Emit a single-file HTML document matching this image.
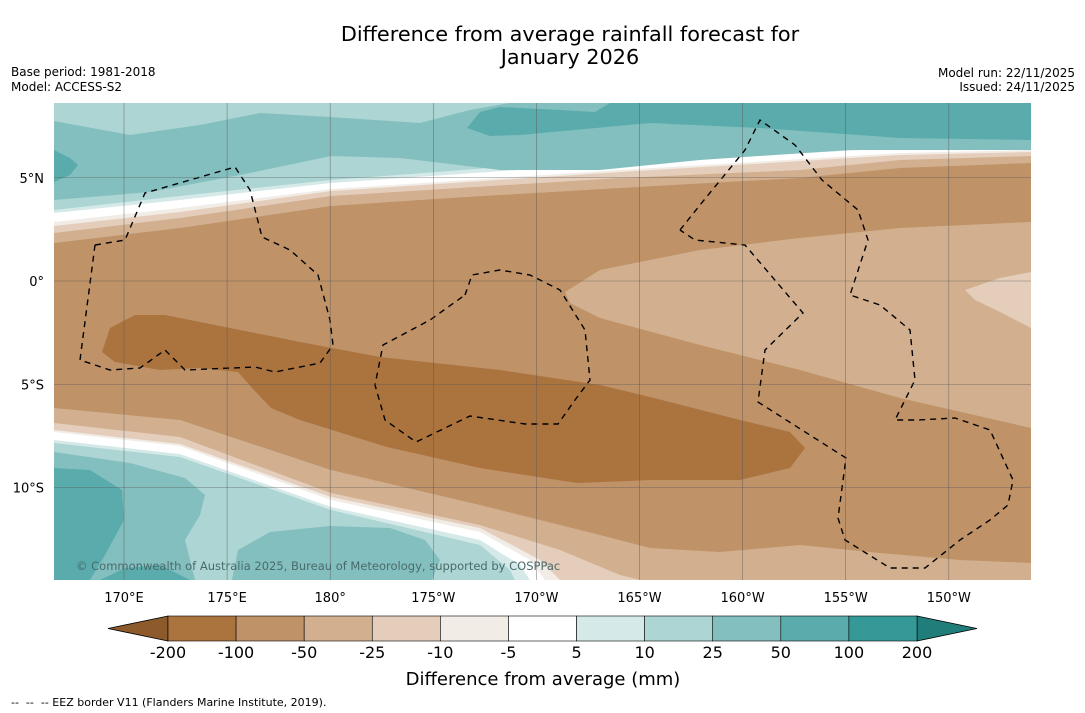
<!DOCTYPE html>
<html><head><meta charset="utf-8">
<style>
html,body{margin:0;padding:0;background:#fff;}
body{width:1085px;height:713px;overflow:hidden;font-family:"DejaVu Sans","Liberation Sans",sans-serif;}
svg{display:block}
</style></head>
<body>
<svg id="chart" width="1085" height="713" viewBox="0 0 1085 713" xmlns="http://www.w3.org/2000/svg">
<text x="570" y="41" font-size="20.8" text-anchor="middle">Difference from average rainfall forecast for</text>
<text x="570" y="64" font-size="20.8" text-anchor="middle">January 2026</text>
<text x="11" y="76" font-size="12">Base period: 1981-2018</text>
<text x="11" y="91" font-size="12">Model: ACCESS-S2</text>
<text x="1075" y="77" font-size="12" text-anchor="end">Model run: 22/11/2025</text>
<text x="1075" y="91" font-size="12" text-anchor="end">Issued: 24/11/2025</text>
<defs><clipPath id="mapclip"><rect x="54" y="103" width="977" height="477"/></clipPath></defs>
<g id="map" clip-path="url(#mapclip)"></g>
<g id="axes"></g>
<g id="cbar"></g>
<text x="543" y="685" font-size="18" text-anchor="middle">Difference from average (mm)</text>
<text x="11" y="706" font-size="11" xml:space="preserve" style="white-space:pre">--  --  -- EEZ border V11 (Flanders Marine Institute, 2019).</text>
</svg>
<script>
const NS='http://www.w3.org/2000/svg';
const levels=['-200','-100','-50','-25','-10','-5','5','10','25','50','100','200'];
const levelColors=['#ab743f','#bf9268','#d2b08f','#e4cebb','#f2ece7','#ffffff','#d5eae8','#acd5d4','#84bfbf','#5aabab','#359a97'];
const extendColors=['#8c5a2b','#217d79'];
const lonLabels=['170°E','175°E','180°','175°W','170°W','165°W','160°W','155°W','150°W'];
const lonValues=[170,175,180,185,190,195,200,205,210];
const latLabels=['5°N','0°','5°S','10°S'];
const latValues=[5,0,-5,-10];
const xOf=lon=>124+(lon-170)*20.62;
const yOf=lat=>281-lat*20.65;
const northBounds=[
 ['#d2b08f',[[54,243],[180,228],[331,206],[450,198],[620,188],[800,178],[900,168],[1031,163]]],
 ['#e4cebb',[[54,233],[180,218],[331,196],[620,178],[800,170],[900,160],[1031,156]]],
 ['#f2ece7',[[54,226],[180,212],[331,191],[620,172],[900,155],[1031,152]]],
 ['#ffffff',[[54,222],[180,208],[331,189],[620,170],[900,153],[1031,150]]],
 ['#d5eae8',[[54,213],[180,200],[331,183],[620,163],[900,148],[1031,146]]],
 ['#acd5d4',[[54,210],[180,196],[331,180],[620,158],[900,145],[1031,143]]],
 ['#84bfbf',[[54,200],[150,192],[240,175],[331,156],[400,158],[500,170],[600,170],[700,160],[850,150],[1031,150]]],
 ['#acd5d4',[[54,121],[130,135],[200,125],[260,113],[330,117],[420,123],[470,110],[510,103]]]
];
const southBounds=[
 ['#d2b08f',[[54,408],[180,420],[331,470],[480,505],[600,535],[650,548],[720,552],[800,545],[880,553],[960,560],[1031,563]]],
 ['#e4cebb',[[54,423],[180,437],[331,493],[480,525],[560,550],[620,575],[640,580]]],
 ['#f2ece7',[[54,430],[180,444],[331,497],[480,528],[540,560],[560,580]]],
 ['#ffffff',[[54,432],[180,446],[331,500],[480,532],[530,560],[545,580]]],
 ['#d5eae8',[[54,440],[180,454],[331,507],[480,540],[520,565],[530,580]]],
 ['#acd5d4',[[54,443],[180,457],[331,510],[480,545],[510,570],[515,580]]]
];
const blobs=[
 ['#d2b08f',[[565,292],[600,270],[700,250],[800,238],[900,228],[1031,222],[1031,428],[900,398],[800,370],[700,345],[600,318],[570,303]]],
 ['#e4cebb',[[965,290],[1000,278],[1031,272],[1031,328],[1000,312],[975,300]]],
 ['#ab743f',[[102,352],[110,328],[135,315],[165,315],[230,328],[300,342],[380,357],[500,370],[600,385],[654,398],[740,420],[790,432],[805,448],[790,468],[740,480],[650,480],[577,483],[480,468],[387,447],[300,420],[271,408],[254,390],[238,372],[200,368],[160,370],[115,362]]],
 ['#5aabab',[[467,128],[480,112],[500,107],[560,110],[595,112],[610,103],[1031,103],[1031,140],[900,138],[760,128],[650,123],[520,135],[490,136]]],
 ['#5aabab',[[54,150],[70,158],[78,165],[70,175],[54,182]]],
 ['#84bfbf',[[54,452],[130,463],[185,478],[205,495],[200,515],[185,540],[195,580],[54,580]]],
 ['#5aabab',[[54,468],[90,470],[122,490],[124,520],[105,555],[90,580],[54,580]]],
 ['#84bfbf',[[232,580],[238,550],[270,532],[330,526],[390,528],[425,540],[440,560],[432,580]]],
 ['#5aabab',[[100,580],[125,568],[160,565],[190,580]]]
];
const eezLines=[
 [[95,245],[125,240],[145,193],[235,167],[250,190],[262,237],[290,250],[318,275],[330,320],[333,345],[320,363],[275,372],[255,367],[185,370],[165,350],[140,368],[110,370],[80,360],[95,245]],
 [[465,295],[472,275],[500,270],[530,275],[560,290],[585,330],[590,380],[575,400],[558,424],[525,424],[470,416],[416,442],[385,420],[375,385],[383,345],[430,320],[465,295]],
 [[680,230],[700,205],[745,150],[760,120],[795,145],[822,180],[858,210],[868,240],[850,295],[880,305],[910,330],[915,380],[895,420],[918,420],[955,418],[990,430],[1013,480],[1008,505],[990,520],[960,540],[925,568],[890,568],[845,540],[838,518],[846,458],[758,402],[765,350],[803,313],[745,245],[695,240],[680,230]]
];
function el(tag,attrs,parent){const e=document.createElementNS(NS,tag);for(const k in attrs)e.setAttribute(k,attrs[k]);parent.appendChild(e);return e;}
const pts=a=>a.map(p=>p.join(',')).join(' ');
const map=document.getElementById('map');
let r=el('rect',{x:54,y:103,width:977,height:477,fill:'#bf9268'},map);


northBounds.forEach((b,i)=>{
 const a=b[1];
 const poly=a.concat([[a[a.length-1][0],103],[1031,103],[54,103]]);
 const p=el('polygon',{points:pts(poly),fill:b[0]},map);
 
 
});
southBounds.forEach((b,i)=>{
 const a=b[1];
 const poly=a.concat([[a[a.length-1][0],580],[54,580]]);
 const p=el('polygon',{points:pts(poly),fill:b[0]},map);
 
 
});
blobs.forEach((b,i)=>{
 const p=el('polygon',{points:pts(b[1]),fill:b[0]},map);
 
 
});
eezLines.forEach((l,i)=>{
 const p=el('polyline',{points:pts(l),fill:'none',stroke:'#000','stroke-width':1.4,'stroke-dasharray':'6,5'},map);
 
 
});
const axes=document.getElementById('axes');
lonValues.forEach((v,i)=>{
 const x=xOf(v);
 const g=el('line',{x1:x,x2:x,y1:103,y2:580,stroke:'#555','stroke-width':0.6,'stroke-opacity':0.7},axes);
 
 
 const t=el('text',{x:x,y:602,'font-size':13,'text-anchor':'middle'},axes);t.textContent=lonLabels[i];
 
 
});
latValues.forEach((v,i)=>{
 const y=yOf(v);
 const g=el('line',{x1:54,x2:1031,y1:y,y2:y,stroke:'#555','stroke-width':0.6,'stroke-opacity':0.7},axes);
 
 
 const t=el('text',{x:44,y:y+5,'font-size':13,'text-anchor':'end'},axes);t.textContent=latLabels[i];
 
 
});
const cr=el('text',{x:76,y:570,'font-size':11.5,fill:'#4a6a6a'},axes);
cr.textContent='© Commonwealth of Australia 2025, Bureau of Meteorology, supported by COSPPac';


const cb=document.getElementById('cbar');
const cx0=168,cx1=917,cy0=616,cy1=641,w=(cx1-cx0)/levelColors.length;
let tl=el('polygon',{points:`${cx0},${cy0} ${108},${(cy0+cy1)/2} ${cx0},${cy1}`,fill:extendColors[0],stroke:'#000','stroke-width':0.8},cb);


let tr=el('polygon',{points:`${cx1},${cy0} ${977},${(cy0+cy1)/2} ${cx1},${cy1}`,fill:extendColors[1],stroke:'#000','stroke-width':0.8},cb);


levelColors.forEach((c,i)=>{
 const b=el('rect',{x:cx0+i*w,y:cy0,width:w,height:cy1-cy0,fill:c,stroke:'#000','stroke-width':0.6},cb);
 
 
});
levels.forEach((l,i)=>{
 const t=el('text',{x:cx0+i*w,y:658,'font-size':16,'text-anchor':'middle'},cb);t.textContent=l;
 
 
});
</script>
</body></html>
